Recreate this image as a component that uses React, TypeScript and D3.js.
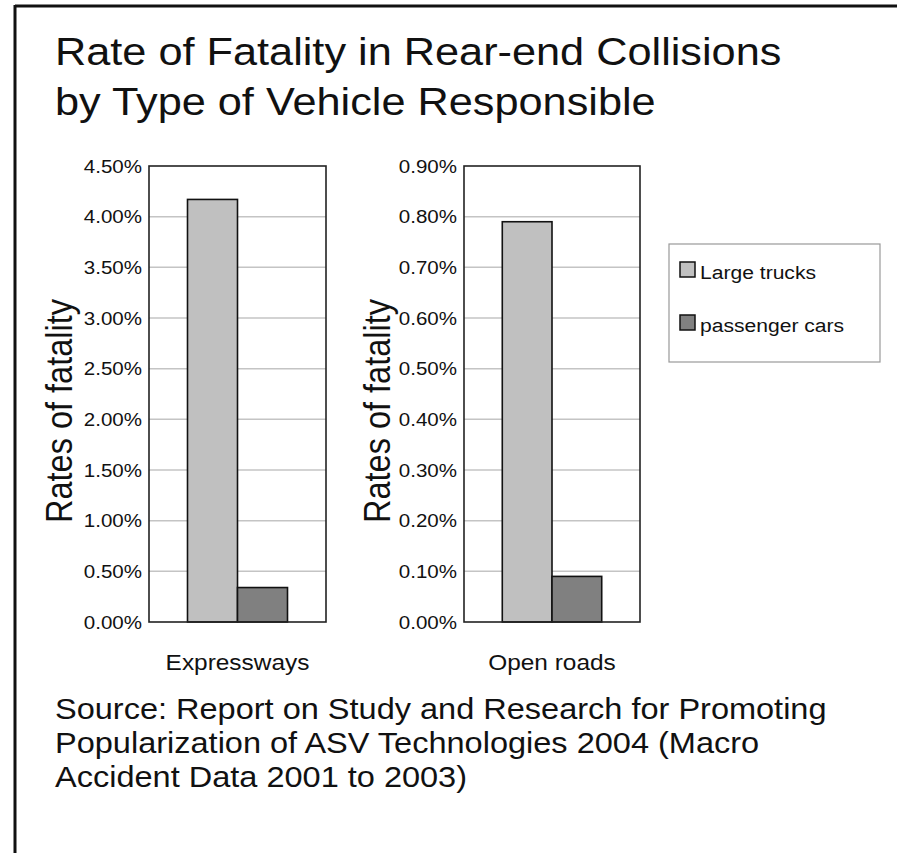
import React from "react";
import * as d3 from "d3";

const categories = ["Expressways", "Open roads"];
const seriesNames = ["Large trucks", "passenger cars"];
const largeTrucks = [4.17, 0.79];
const passengerCars = [0.34, 0.09];
const axisMax = [4.5, 0.9];
const tickStep = [0.5, 0.1];
const titleLines = ["Rate of Fatality in Rear-end Collisions", "by Type of Vehicle Responsible"];
const sourceLines = [
  "Source: Report on Study and Research for Promoting",
  "Popularization of ASV Technologies 2004 (Macro",
  "Accident Data 2001 to 2003)",
];
const yTitle = "Rates of fatality";
const seriesColors = ["#c0c0c0", "#808080"];

const W = 897;
const H = 853;
const FONT = "'Liberation Sans', Arial, sans-serif";
const SX = 1.11;

const panels = [
  { left: 149, right: 326, titleX: 59 },
  { left: 464, right: 640, titleX: 377 },
];
const plotTop = 166;
const plotBottom = 622;

function T({
  x,
  y,
  size,
  anchor = "start",
  baseline,
  children,
}: {
  x: number;
  y: number;
  size: number;
  anchor?: string;
  baseline?: string;
  children: React.ReactNode;
}) {
  return (
    <text
      transform={`translate(${x},${y}) scale(${SX},1)`}
      textAnchor={anchor}
      dominantBaseline={baseline}
      fontSize={size}
      fontFamily={FONT}
      fill="#111"
    >
      {children}
    </text>
  );
}

function Panel({ idx }: { idx: number }) {
  const { left, right, titleX } = panels[idx];
  const y = d3.scaleLinear().domain([0, axisMax[idx]]).range([plotBottom, plotTop]);
  const ticks = d3.range(0, axisMax[idx] + tickStep[idx] / 2, tickStep[idx]);
  const x = d3
    .scaleBand<string>()
    .domain(seriesNames)
    .range([left, right])
    .paddingInner(0)
    .paddingOuter(0.77);
  const values = [largeTrucks[idx], passengerCars[idx]];
  const fmt = d3.format(".2f");
  const titleY = 411;
  return (
    <g>
      {ticks.map((t, i) => (
        <g key={i}>
          {i > 0 && i < ticks.length - 1 && (
            <line x1={left} x2={right} y1={y(t)} y2={y(t)} stroke="#c4c4c4" strokeWidth={1.5} />
          )}
          <T x={left - 7} y={y(t)} size={18.5} anchor="end" baseline="central">
            {fmt(t) + "%"}
          </T>
        </g>
      ))}
      {seriesNames.map((s, i) => (
        <rect
          key={s}
          x={x(s)}
          width={x.bandwidth()}
          y={y(values[i])}
          height={plotBottom - y(values[i])}
          fill={seriesColors[i]}
          stroke="#111"
          strokeWidth={1.6}
        />
      ))}
      <rect
        x={left}
        y={plotTop}
        width={right - left}
        height={plotBottom - plotTop}
        fill="none"
        stroke="#222"
        strokeWidth={1.6}
      />
      <text
        transform={`translate(${titleX},${titleY}) scale(${SX},1) rotate(-90)`}
        textAnchor="middle"
        dominantBaseline="central"
        fontSize={32.5}
        fontFamily={FONT}
        fill="#111"
      >
        {yTitle}
      </text>
      <T x={(left + right) / 2} y={662} size={22} anchor="middle" baseline="central">
        {categories[idx]}
      </T>
    </g>
  );
}

export default function App() {
  return (
    <svg width={W} height={H} style={{ position: "absolute", left: 0, top: 0, background: "#fff" }}>
      <rect x={0} y={0} width={W} height={H} fill="#fff" />
      <line x1={15} y1={6} x2={W} y2={6} stroke="#111" strokeWidth={3} />
      <line x1={15} y1={5} x2={15} y2={H} stroke="#111" strokeWidth={3} />
      {titleLines.map((l, i) => (
        <T key={i} x={55} y={65 + i * 50} size={39}>
          {l}
        </T>
      ))}
      <Panel idx={0} />
      <Panel idx={1} />
      <rect x={669} y={244} width={211} height={118} fill="#fff" stroke="#999" strokeWidth={1.2} />
      {seriesNames.map((s, i) => (
        <g key={s}>
          <rect
            x={680}
            y={262 + i * 53}
            width={15}
            height={15}
            fill={seriesColors[i]}
            stroke="#111"
            strokeWidth={1.5}
          />
          <T x={700} y={272 + i * 53} size={19} baseline="central">
            {s}
          </T>
        </g>
      ))}
      {sourceLines.map((l, i) => (
        <T key={i} x={55} y={719 + i * 34} size={29.3}>
          {l}
        </T>
      ))}
    </svg>
  );
}
